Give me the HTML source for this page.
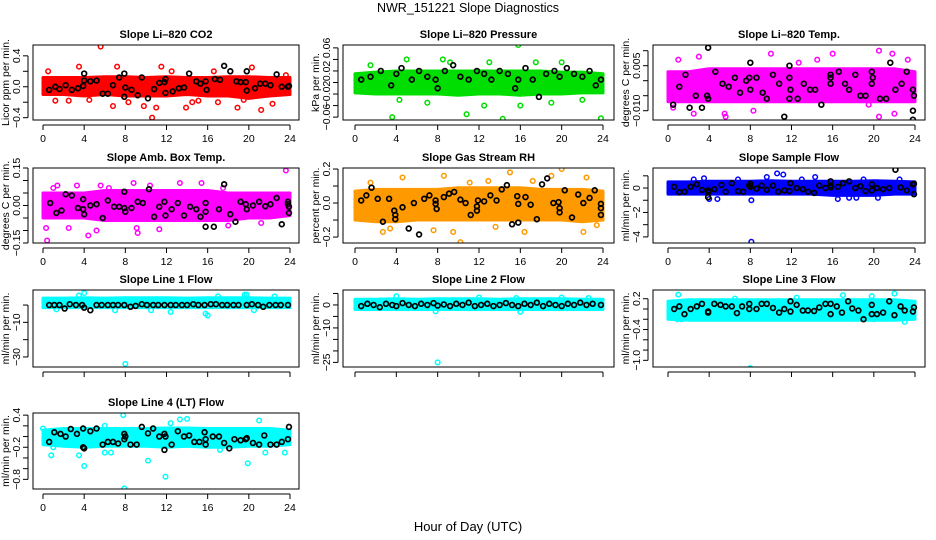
<!DOCTYPE html>
<html><head><meta charset="utf-8">
<style>
html,body{margin:0;padding:0;background:#fff;}
svg{display:block;font-family:"Liberation Sans",sans-serif;}
</style></head>
<body>
<svg id="chart" width="936" height="540" viewBox="0 0 936 540" xmlns="http://www.w3.org/2000/svg">
<rect x="0" y="0" width="936" height="540" fill="#fff"/>
<text x="468" y="12" font-size="12.5" text-anchor="middle">NWR_151221  Slope Diagnostics</text>
<text x="468" y="531" font-size="13" text-anchor="middle">Hour of Day (UTC)</text>
</svg>
<script>
// ---- data ----
const bandHours=[0,2,4,6,8,10,12,14,16,18,20,22,24];
const xTicks=[0,4,8,12,16,20,24];

const co2BandLo=[-0.1,-0.1,-0.12,-0.1,-0.12,-0.12,-0.12,-0.1,-0.12,-0.12,-0.15,-0.12,-0.1];
const co2BandHi=[0.12,0.12,0.12,0.13,0.13,0.12,0.13,0.12,0.12,0.13,0.13,0.12,0.12];
const co2Out=[5.6,0.52,10.6,-0.4,3.5,0.26,6.8,-0.25,9.8,-0.25,11,-0.27,13.9,-0.27,18.9,-0.27,21.2,-0.3,7.2,0.26,11.5,0.26,1.2,-0.18,20.3,0.25,15.1,-0.18,17,-0.2,22.3,-0.22,12.5,0.2,0.5,0.2,23.6,0.15,8.3,-0.2,2.5,-0.18,4.5,-0.17,19.5,-0.17,16.6,0.2,14.5,-0.2];
const co2Black=[0.6,-0.04,1.2,0,1.6,-0.03,2.2,0.02,2.8,-0.04,3.4,-0.02,3.9,0.01,4,0.08,4,0.17,4.6,0.07,5.2,0.08,5.8,-0.09,6.3,-0.09,6.8,0.02,7.4,0.12,7.9,0.17,8,-0.01,7.9,-0.13,8.6,-0.04,9.2,-0.11,9.6,0.12,10.2,-0.15,10.8,-0.03,11.3,0.05,11.8,0.06,11.9,0.1,11.9,-0.08,12.6,-0.06,13.2,-0.02,13.7,-0.01,14.2,0.17,14.9,0.07,15.3,0.04,15.8,0.07,15.9,-0.04,16.7,0.1,17.2,0.09,17.6,0.27,18.2,0.2,18.8,0.07,19.2,0.06,19.7,0.06,19.8,0.2,19.8,-0.05,20.6,-0.02,21.1,0.04,21.6,0.04,22.1,0.02,22.7,0.16,23.2,0,23.8,0,23.9,0.01];

const presBandLo=[-0.018,-0.02,-0.02,-0.02,-0.02,-0.022,-0.02,-0.02,-0.022,-0.02,-0.02,-0.018,-0.018];
const presBandHi=[0.015,0.018,0.02,0.02,0.02,0.02,0.02,0.02,0.02,0.02,0.018,0.018,0.015];
const presOut=[15.8,0.065,3.6,-0.06,14.3,-0.063,23.8,-0.062,10.8,-0.055,5,0.04,8.5,0.04,16,-0.04,4.3,-0.03,20,0.035,12.5,-0.04,19,-0.035,9.2,0.035,7,-0.035,1.5,0.03,13,0.035,22,-0.03,17.5,0.035];
const presBlack=[0.6,0.005,1.5,0.01,2.5,0.02,3.5,-0.005,4,0.015,4.5,0.025,5.5,0.005,6.2,0.02,7,0.01,7.8,0.005,8,-0.01,8.7,0.02,9.5,0.03,10.2,0.01,11,0.005,11.8,0.02,12.5,0.015,13.2,0.005,14,0.02,14.8,0.015,15.5,-0.01,15.8,0.005,16.5,0.025,17.2,0.005,17.8,-0.025,18.5,0.015,19.3,0.02,19.8,0.01,20.5,0.025,21.2,0.015,22,0.01,22.7,0.02,23.3,-0.005,23.8,0.005];

const tempBandLo=[-0.007,-0.007,-0.007,-0.007,-0.007,-0.007,-0.007,-0.007,-0.007,-0.007,-0.007,-0.007,-0.007];
const tempBandHi=[0.003,0.003,0.004,0.004,0.004,0.004,0.004,0.004,0.004,0.004,0.004,0.004,0.003];
const tempOut=[7.2,0.013,10.6,-0.014,16,0.009,20.5,0.01,21.8,0.009,10,0.009,1,0.007,2.5,-0.011,5.5,-0.011,5.6,-0.012,19.5,-0.008,22,-0.011,14.5,0.007,0.5,-0.009,3,0.008,20.5,-0.012,8.3,-0.01,12.7,0.006,23.3,0.007];
const tempBlack=[0.5,-0.008,1.1,-0.002,1.7,0.002,2.1,-0.009,2.7,-0.005,3.3,-0.009,3.9,0.011,3.8,-0.005,3.9,-0.006,4.6,0.003,5.3,-0.001,5.9,-0.002,6.5,0.001,7,-0.004,7.6,0,8,0.006,7.9,0.001,8,-0.003,8.6,0.001,9.2,-0.004,9.6,-0.006,10.2,0.002,10.8,-0.001,11.3,-0.012,11.8,0.005,11.8,0.001,11.9,-0.003,11.8,-0.006,12.6,-0.006,13.2,-0.001,13.8,-0.003,14.3,-0.003,14.9,-0.008,15.3,-0.015,15.8,0.002,15.8,0.001,15.8,-0.001,16.6,0.003,17.2,-0.001,17.6,-0.003,18.2,0.002,18.7,-0.005,19.2,-0.005,19.8,-0.001,19.8,0.003,19.9,0.001,20.6,-0.006,21.2,-0.006,21.6,0.006,22.1,-0.003,22.7,-0.001,23.2,0.003,23.8,-0.003,23.9,-0.005,23.8,-0.01,23.8,-0.013];

const ambBandLo=[-0.05,-0.05,-0.05,-0.06,-0.06,-0.06,-0.06,-0.06,-0.06,-0.06,-0.05,-0.05,-0.04];
const ambBandHi=[0.05,0.05,0.05,0.06,0.06,0.06,0.06,0.06,0.06,0.05,0.05,0.05,0.05];
const ambOut=[0.4,-0.14,0.3,-0.09,1,0.07,2.5,-0.09,3.3,0.08,4.4,-0.12,5.2,-0.1,5.6,0.08,8.8,0.09,9.2,-0.11,9.1,-0.09,11.3,-0.095,13.3,0.09,15.4,0.09,23.6,0.14,17.5,0.07,21.2,-0.07,10.4,0.08,6.4,0.07,18,-0.08,1.4,0.08];
const ambBlack=[0.7,0.01,1.3,-0.03,1.8,-0.02,2.2,0.045,2.8,0.04,3.4,-0.01,3.9,0.025,3.9,-0.015,4,-0.035,4.6,0,5.2,0.005,5.8,-0.05,6.3,0.02,6.9,-0.005,7.4,-0.005,7.9,0.055,7.9,-0.01,8,-0.025,8.6,-0.01,9.2,0.015,9.7,0.01,10.3,0.065,10.8,-0.045,11.3,-0.005,11.8,0.015,11.9,-0.04,12.5,-0.015,13.1,0.01,13.7,-0.04,14.3,-0.005,14.9,-0.015,15.3,-0.045,15.8,0.01,15.8,-0.025,15.8,-0.085,16.6,-0.085,17.1,-0.015,17.6,0.085,18.2,-0.035,18.7,-0.065,19.2,0.015,19.7,0.005,19.8,-0.015,20.4,0,21,0.015,21.6,-0.003,22.1,0.005,22.7,0.03,23.2,-0.075,23.8,0.015,23.8,0.005,23.9,-0.03,23.9,-0.005];

const rhBandLo=[-0.1,-0.11,-0.11,-0.1,-0.1,-0.1,-0.1,-0.1,-0.1,-0.1,-0.1,-0.11,-0.1];
const rhBandHi=[0.07,0.08,0.08,0.08,0.08,0.09,0.09,0.09,0.09,0.08,0.08,0.08,0.07];
const rhOut=[10.2,-0.23,15,0.18,20,0.2,8.6,0.16,4.6,0.15,2.7,-0.17,9.5,-0.17,16.4,-0.17,22.1,-0.17,22.4,0.15,11.1,0.12,1.5,0.12,7.6,-0.16,13.6,-0.14,23.4,-0.13,0.2,-0.09,3.4,-0.15,19,0.16,12.9,0.13,17.2,0.13];
const rhBlack=[0.6,0.015,1.1,0.045,1.6,0.09,2.2,0.025,2.7,-0.11,3.3,0.025,3.8,-0.045,3.9,-0.07,3.9,-0.095,4.6,-0.025,5.2,-0.15,5.7,0,6.2,-0.185,6.7,0.025,7.2,0.045,7.8,0.015,7.8,-0.005,7.9,-0.035,8.6,0.035,9.1,0.055,9.6,0.065,10.2,0.02,10.7,0,11.2,-0.07,11.8,-0.045,11.8,-0.02,11.9,0.015,12.5,0.01,13.1,0.045,13.7,0.015,14.2,0.08,14.7,0.105,15.2,-0.125,15.7,0.04,15.8,-0.005,15.8,-0.115,16.5,0.035,17,-0.01,17.6,-0.095,18.1,0.11,18.6,0.145,19.2,0,19.7,0.005,19.8,-0.03,19.8,-0.055,20.3,0.075,21,-0.085,21.6,0.05,22.1,0,22.7,0.03,23.2,0.075,23.8,-0.005,23.8,-0.03,23.8,-0.07];

const sfBandLo=[-0.5,-0.5,-0.5,-0.5,-0.5,-0.5,-0.5,-0.5,-0.6,-0.6,-0.6,-0.5,-0.5];
const sfBandHi=[0.5,0.5,0.55,0.55,0.55,0.6,0.55,0.55,0.55,0.55,0.6,0.55,0.5];
const sfOut=[8.1,-4.4,8.1,-1,4,-0.9,3.5,0.8,9.6,0.9,10.6,1.2,11.2,1.1,14.3,0.9,16.5,-0.9,17.6,-0.8,19,0.7,20.4,-0.8,4.8,-0.9,18.3,-0.8,2.5,0.7,13,0.7,22.5,0.7,6.8,0.7];
const sfBlack=[0.6,0.1,1.1,-0.35,1.6,-0.3,2.2,0.1,2.8,0.3,3.3,-0.15,3.9,-0.2,3.9,-0.35,3.9,-0.75,4.5,-0.1,5.2,0.25,5.6,-0.3,6.2,0.4,6.8,-0.25,7.3,-0.3,7.9,0.2,8,0.35,8,0.1,8.6,-0.05,9.1,0.2,9.6,-0.15,10.2,0.2,10.7,-0.3,11.3,-0.2,11.8,-0.25,11.9,0.4,12.5,0,13.1,-0.1,13.6,-0.3,14.2,-0.4,14.7,0.2,15.3,0,15.8,0.2,15.8,0.55,15.8,0.05,16.5,0.1,17,0.4,17.6,0.55,18.2,0,18.7,0.15,19.2,-0.25,19.8,0.3,19.8,-0.2,20.3,0,20.9,-0.1,21.5,0,22.1,1.5,22.6,0.05,23.2,-0.2,23.8,0.3,23.9,-0.5,23.9,0.35];

const l1BandLo=[-1.5,-1.5,-1.5,-1.5,-1.5,-1.5,-1.5,-1.5,-1.5,-1.5,-1.5,-1.5,-1.5];
const l1BandHi=[4,4,4.2,4,4.2,4.2,4.2,4,4.2,4.2,4.2,4,4];
const l1Out=[8,-34,4,7,19.8,6,15.8,-5,16,-6,12.4,-4,19.6,6,7,-3,3.5,5.5,17,5,22.5,5,1.3,-2.5,10.5,-3,20.5,-3];
const l1Black=[0.6,0,1.1,0,1.6,0,2.1,-2,2.6,0.5,3.2,0,3.8,0,4,-1.5,4.6,-3,5.2,0,5.7,0,6.3,0,6.8,0,7.3,0,7.9,0,8.5,-1,9,-0.5,9.6,0.5,10.1,0,10.7,0,11.2,0,11.8,0,12.4,0,12.9,0,13.5,0,14,0,14.6,0.5,15.1,0,15.7,0,16.3,0.5,16.8,0.5,17.4,0,17.9,0,18.5,0,19,0,19.8,0,20.3,0.5,20.9,0,21.4,-1,22,0,22.6,0,23.1,0,23.8,0];

const l2BandLo=[-2,-2,-2,-2,-2,-2,-2,-2,-2,-2,-2,-2,-2];
const l2BandHi=[2.5,2.5,2.7,2.5,2.7,2.7,2.7,2.5,2.7,2.7,2.7,2.5,2.5];
const l2Out=[8,-25,4,3.8,12,3.2,20,3.2,16,-3,7.8,-2.8,15.6,3,22.6,3];
const l2Black=[0.6,-0.5,1.2,0.5,1.8,0,2.4,-1,3,0.5,3.6,0,4,-0.5,4.6,0.8,5.2,0,5.8,-0.5,6.4,0.5,7,0,7.6,0.8,8,-0.3,8.6,0.2,9.2,-0.5,9.8,0.5,10.4,0,11,1,11.6,-0.5,12.2,0,12.8,0.5,13.4,-0.5,14,0,14.6,0.8,15.2,0,15.8,-0.5,16.4,0.5,17,0,17.6,1,18.2,-0.5,18.8,0.5,19.4,0,20,-0.5,20.6,0.5,21.2,0,21.8,1,22.4,0,23,0.5,23.8,0];

const l3BandLo=[-0.2,-0.22,-0.22,-0.22,-0.22,-0.22,-0.22,-0.22,-0.22,-0.22,-0.22,-0.22,-0.2];
const l3BandHi=[0.15,0.18,0.18,0.18,0.18,0.18,0.18,0.18,0.18,0.18,0.18,0.18,0.15];
const l3Out=[8,-1.15,1,0.28,17,0.27,22,0.3,19.8,0.25,0.9,-0.2,23,-0.25,1.3,-0.2,6.5,0.2,12.5,0.22,20,-0.2,3,-0.15];
const l3Black=[0.6,0,1.1,0.05,1.6,-0.1,2.2,0,2.8,0.05,3.3,0.1,3.9,-0.07,3.9,-0.05,4.5,0.1,5.1,0.08,5.6,0.05,6.2,0.05,6.7,-0.08,7.2,0.05,7.9,0.1,7.9,0,8.6,0,9.1,0.1,9.6,0.1,10.2,0.02,10.8,-0.07,11.3,0,11.9,0.15,11.9,-0.05,12.5,0.08,13.1,-0.03,13.6,-0.03,14.2,-0.04,14.7,0.03,15.3,0.1,15.8,0.1,15.8,-0.1,16.4,0.05,16.9,-0.07,17.5,0.15,17.9,0.01,18.5,-0.03,19,-0.2,19.8,0.08,19.8,-0.1,20.3,-0.1,20.9,-0.07,21.5,0.15,22,-0.12,22.6,0.05,23,-0.03,23.8,-0.05,23.9,0.03];

const l4BandLo=[-0.15,-0.18,-0.2,-0.18,-0.18,-0.18,-0.2,-0.18,-0.2,-0.2,-0.18,-0.18,-0.15];
const l4BandHi=[0.12,0.15,0.15,0.15,0.15,0.15,0.16,0.16,0.15,0.15,0.15,0.15,0.12];
const l4Out=[7.9,-0.97,11.9,-0.75,4,-0.55,19.9,-0.5,10.2,-0.45,0.8,-0.35,3.5,-0.35,7.8,0.4,0,0.15,6,0.2,13.3,0.32,14,0.33,12.4,0.25,21,0.3,21.6,-0.3,23.5,-0.3,1,-0.2,6,-0.3,6.6,-0.3,17.2,-0.25];
const l4Black=[0.6,-0.1,1.1,0.08,1.7,0.05,2.2,0,2.7,0.14,3.3,0.05,3.9,-0.2,4,-0.22,3.9,0.15,4.6,0.1,5.2,0.15,5.8,-0.15,6.3,-0.1,6.8,-0.1,7.3,-0.13,7.9,0.05,7.9,-0.05,8,0,8.5,-0.15,9.1,-0.15,9.6,0.18,10.2,0.06,10.7,0.15,11.3,0,11.8,0.05,11.8,-0.25,11.9,0,12.5,-0.15,13.1,0.1,13.7,0,14.2,0.02,14.7,-0.1,15.2,-0.1,15.7,0.08,15.8,-0.05,15.8,-0.15,16.5,0,17.1,0,17.6,-0.12,18.1,-0.22,18.6,-0.05,19.2,-0.07,19.7,-0.05,19.8,-0.03,20.4,-0.12,21,-0.15,21.5,0.02,22.1,-0.15,22.7,-0.15,23.2,-0.1,23.8,-0.05,23.9,0.18];

// ---- layout (geometry only) ----
const cols=[{L:33,R:299,x0:43,x24:290},{L:343,R:614,x0:355,x24:603},{L:653,R:925,x0:668,x24:915}];
const rows=[{T:45,B:120},{T:168,B:243},{T:290,B:367},{T:413,B:489}];

const panels=[
 {name:'co2',title:'Slope Li\u2013820 CO2',ylab:'Licor ppm per min.',c:0,r:0,col:'#ff0000',ymin:-0.43,ymax:0.54,ticks:[-0.4,-0.2,0,0.2,0.4],labs:{'-0.4':'\u22120.4','0':'0.0','0.4':'0.4'},lo:co2BandLo,hi:co2BandHi,out:co2Out,blk:co2Black,xl:true},
 {name:'pressure',title:'Slope Li\u2013820 Pressure',ylab:'kPa per min.',c:1,r:0,col:'#00dd00',ymin:-0.065,ymax:0.065,ticks:[-0.06,-0.04,-0.02,0,0.02,0.04,0.06],labs:{'-0.06':'\u22120.06','-0.02':'\u22120.02','0.02':'0.02','0.06':'0.06'},lo:presBandLo,hi:presBandHi,out:presOut,blk:presBlack,xl:true},
 {name:'li820-temp',title:'Slope Li\u2013820 Temp.',ylab:'degrees C per min.',c:2,r:0,col:'#ff00ff',ymin:-0.0131,ymax:0.0119,ticks:[-0.01,-0.005,0,0.005,0.01],labs:{'-0.01':'\u22120.010','0.005':'0.005'},lo:tempBandLo,hi:tempBandHi,out:tempOut,blk:tempBlack,xl:true},
 {name:'amb-box-temp',title:'Slope Amb. Box Temp.',ylab:'degrees C per min.',c:0,r:1,col:'#ff00ff',ymin:-0.15,ymax:0.15,ticks:[-0.15,-0.1,-0.05,0,0.05,0.1,0.15],labs:{'-0.15':'\u22120.15','0':'0.00','0.15':'0.15'},lo:ambBandLo,hi:ambBandHi,out:ambOut,blk:ambBlack,xl:true},
 {name:'gas-stream-rh',title:'Slope Gas Stream RH',ylab:'percent per min.',c:1,r:1,col:'#ff9900',ymin:-0.235,ymax:0.206,ticks:[-0.2,-0.1,0,0.1,0.2],labs:{'-0.2':'\u22120.2','0':'0.0','0.2':'0.2'},lo:rhBandLo,hi:rhBandHi,out:rhOut,blk:rhBlack,xl:true},
 {name:'sample-flow',title:'Slope Sample Flow',ylab:'ml/min per min.',c:2,r:1,col:'#0000ff',ymin:-4.5,ymax:1.64,ticks:[-4,-3,-2,-1,0,1],labs:{'-4':'\u22124','-2':'\u22122','0':'0'},lo:sfBandLo,hi:sfBandHi,out:sfOut,blk:sfBlack,xl:true},
 {name:'line1-flow',title:'Slope Line 1 Flow',ylab:'ml/min per min.',c:0,r:2,col:'#00ffff',ymin:-35.8,ymax:8.7,ticks:[-30,-20,-10,0],labs:{'-30':'\u221230','-10':'\u221210'},lo:l1BandLo,hi:l1BandHi,out:l1Out,blk:l1Black,xl:false},
 {name:'line2-flow',title:'Slope Line 2 Flow',ylab:'ml/min per min.',c:1,r:2,col:'#00ffff',ymin:-27,ymax:6.5,ticks:[-25,-20,-15,-10,-5,0,5],labs:{'-25':'\u221225','-10':'\u221210','0':'0'},lo:l2BandLo,hi:l2BandHi,out:l2Out,blk:l2Black,xl:false},
 {name:'line3-flow',title:'Slope Line 3 Flow',ylab:'ml/min per min.',c:2,r:2,col:'#00ffff',ymin:-1.13,ymax:0.37,ticks:[-1,-0.8,-0.6,-0.4,-0.2,0,0.2],labs:{'-1':'\u22121.0','-0.4':'\u22120.4','0.2':'0.2'},lo:l3BandLo,hi:l3BandHi,out:l3Out,blk:l3Black,xl:false},
 {name:'line4-flow',title:'Slope Line 4 (LT) Flow',ylab:'ml/min per min.',c:0,r:3,col:'#00ffff',ymin:-0.98,ymax:0.44,ticks:[-0.8,-0.6,-0.4,-0.2,0,0.2,0.4],labs:{'-0.8':'\u22120.8','-0.2':'\u22120.2','0.4':'0.4'},lo:l4BandLo,hi:l4BandHi,out:l4Out,blk:l4Black,xl:true}
];

const NS='http://www.w3.org/2000/svg';
const svg=document.getElementById('chart');
function mk(tag,attrs,parent){const e=document.createElementNS(NS,tag);for(const k in attrs)e.setAttribute(k,attrs[k]);(parent||svg).appendChild(e);return e;}

panels.forEach(p=>{
  const C=cols[p.c],R=rows[p.r];
  const xs=h=>C.x0+(h/24)*(C.x24-C.x0);
  const ys=v=>R.B-(v-p.ymin)/(p.ymax-p.ymin)*(R.B-R.T);
  const g=mk('g',{});
  
  
  const clipId='clip-'+p.name;
  const cp=mk('clipPath',{id:clipId},g);
  mk('rect',{x:C.L,y:R.T,width:C.R-C.L,height:R.B-R.T},cp);
  const t=mk('text',{x:(C.L+C.R)/2,y:R.T-7,'font-size':'11','font-weight':'bold','text-anchor':'middle'},g);
  t.textContent=p.title;
  
  
  const yl=mk('text',{x:0,y:0,'font-size':'10.5','text-anchor':'middle',transform:`translate(${C.L-24},${(R.T+R.B)/2}) rotate(-90)`},g);
  yl.textContent=p.ylab;
  
  
  const plot=mk('g',{'clip-path':`url(#${clipId})`},g);
  let pts=[];
  bandHours.forEach((h,i)=>pts.push(xs(h).toFixed(1)+','+ys(p.hi[i]).toFixed(1)));
  for(let i=bandHours.length-1;i>=0;i--)pts.push(xs(bandHours[i]).toFixed(1)+','+ys(p.lo[i]).toFixed(1));
  const band=mk('polygon',{points:pts.join(' '),fill:p.col,stroke:p.col,'stroke-width':'3','stroke-linejoin':'round'},plot);
  
  
  for(let i=0;i<p.out.length;i+=2){
    const c=mk('circle',{cx:xs(p.out[i]),cy:ys(p.out[i+1]),r:2.3,fill:'none',stroke:p.col,'stroke-width':1.5},plot);
    
    
  }
  for(let i=0;i<p.blk.length;i+=2){
    const c=mk('circle',{cx:xs(p.blk[i]),cy:ys(p.blk[i+1]),r:2.4,fill:'none',stroke:'#000','stroke-width':1.7},plot);
    
    
  }
  const box=mk('rect',{x:C.L,y:R.T,width:C.R-C.L,height:R.B-R.T,fill:'none',stroke:'#000','stroke-width':1},g);
  
  
  mk('line',{x1:xs(0),x2:xs(24),y1:R.B+5,y2:R.B+5,stroke:'#000'},g);
  xTicks.forEach(h=>{
    mk('line',{x1:xs(h),x2:xs(h),y1:R.B+5,y2:R.B+10,stroke:'#000'},g);
    if(p.xl){
      const tx=mk('text',{x:xs(h),y:R.B+22,'font-size':'10.5','text-anchor':'middle'},g);
      tx.textContent=String(h);
      
      
    }
  });
  const tv=p.ticks;
  mk('line',{x1:C.L-5,x2:C.L-5,y1:ys(tv[0]),y2:ys(tv[tv.length-1]),stroke:'#000'},g);
  tv.forEach(v=>{
    mk('line',{x1:C.L-10,x2:C.L-5,y1:ys(v),y2:ys(v),stroke:'#000'},g);
    const lab=p.labs[String(v)];
    if(lab){
      const ty=mk('text',{x:0,y:0,'font-size':'10.5','text-anchor':'middle',transform:`translate(${C.L-13},${ys(v)}) rotate(-90)`},g);
      ty.textContent=lab;
      
      
    }
  });
});
</script>
</body></html>
